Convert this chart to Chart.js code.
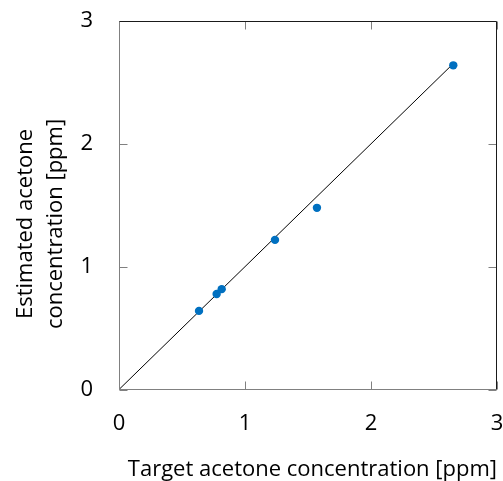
<!DOCTYPE html>
<html>
<head>
<meta charset="utf-8">
<script src="https://cdn.jsdelivr.net/npm/chart.js@4"></script>
<style>
html,body{margin:0;padding:0;background:#fff;}
#wrap{width:503px;height:481px;}
</style>
</head>
<body>
<div id="wrap"><canvas id="c" width="503" height="481"></canvas></div>
<script>
const targetValues = [0.635, 0.775, 0.815, 1.238, 1.571, 2.653];
const estimatedValues = [0.64, 0.778, 0.817, 1.218, 1.479, 2.639];
const identityLine = [[0, 0], [2.65, 2.65]];
const tickValues = [0, 1, 2, 3];
const xTitle = 'Target acetone concentration [ppm]';
const yTitle = ['Estimated acetone', 'concentration [ppm]'];

const FONT = "'Open Sans', 'Liberation Sans', sans-serif";
const FSIZE = 22;

const boxPlugin = {
  id: 'boxTicks',
  afterDatasetsDraw(chart) {
    const {ctx, chartArea: a, scales: {x, y}} = chart;
    const l = Math.round(a.left) + 0.5, r = Math.round(a.right) - 0.5;
    const t = Math.round(a.top) + 0.5, b = Math.round(a.bottom) - 0.5;
    ctx.save();
    ctx.lineWidth = 1;
    const L = 8;
    ctx.strokeStyle = '#808080';
    ctx.beginPath();
    tickValues.forEach(v => {
      const px = Math.round(x.getPixelForValue(v)) + 0.5;
      ctx.moveTo(px, b); ctx.lineTo(px, b - L);
      ctx.moveTo(px, t); ctx.lineTo(px, t + L);
      const py = Math.round(y.getPixelForValue(v)) + 0.5;
      ctx.moveTo(l, py); ctx.lineTo(l + L, py);
      ctx.moveTo(r, py); ctx.lineTo(r - L, py);
    });
    ctx.stroke();
    ctx.strokeStyle = '#808080';
    ctx.beginPath();
    ctx.moveTo(l, t); ctx.lineTo(l, b); ctx.lineTo(r, b);
    ctx.stroke();
    ctx.strokeStyle = '#1a1a1a';
    ctx.beginPath();
    ctx.moveTo(l, t); ctx.lineTo(r, t); ctx.lineTo(r, b);
    ctx.stroke();
    ctx.restore();
  },
  afterDraw(chart) {
    const ctx = chart.ctx;
    ctx.save();
    ctx.font = FSIZE + 'px ' + FONT;
    ctx.fillStyle = '#000';
    ctx.textAlign = 'center';
    ctx.textBaseline = 'alphabetic';
    ctx.translate(0, 224);
    ctx.rotate(-Math.PI / 2);
    ctx.fillText(yTitle[0], 0, 32);
    ctx.fillText(yTitle[1], 0, 62);
    ctx.restore();
  }
};

new Chart(document.getElementById('c'), {
  data: {
    datasets: [
      {
        type: 'line',
        data: identityLine.map(p => ({x: p[0], y: p[1]})),
        borderColor: '#000',
        borderWidth: 1,
        pointRadius: 0,
        fill: false,
        order: 2
      },
      {
        type: 'scatter',
        data: targetValues.map((v, i) => ({x: v, y: estimatedValues[i]})),
        backgroundColor: '#0070C0',
        borderColor: '#0070C0',
        pointRadius: 4.2,
        pointBorderWidth: 0,
        order: 1
      }
    ]
  },
  plugins: [boxPlugin],
  options: {
    responsive: false,
    animation: false,
    layout: {padding: {top: 21, right: 6, left: 0, bottom: 0}},
    plugins: {legend: {display: false}, tooltip: {enabled: false}},
    scales: {
      x: {
        type: 'linear', min: 0, max: 3,
        afterBuildTicks(s) { s.ticks = tickValues.map(v => ({value: v})); },
        ticks: {font: {family: FONT, size: FSIZE}, color: '#000', padding: 21, maxRotation: 0},
        grid: {display: false, drawTicks: false},
        border: {display: false},
        title: {display: true, text: xTitle, align: 'end', font: {family: FONT, size: FSIZE, lineHeight: 1.05}, color: '#000', padding: {top: 0, bottom: 0}},
        afterFit(s) { s.height = 91.5; s.paddingLeft = 0; s.paddingRight = 0; }
      },
      y: {
        type: 'linear', min: 0, max: 3,
        afterBuildTicks(s) { s.ticks = tickValues.map(v => ({value: v})); },
        ticks: {font: {family: FONT, size: FSIZE}, color: '#000', padding: 26},
        grid: {display: false, drawTicks: false},
        border: {display: false},
        title: {display: false},
        afterFit(s) { s.width = 119; s.paddingTop = 0; s.paddingBottom = 0; }
      }
    }
  }
});
</script>
</body>
</html>
